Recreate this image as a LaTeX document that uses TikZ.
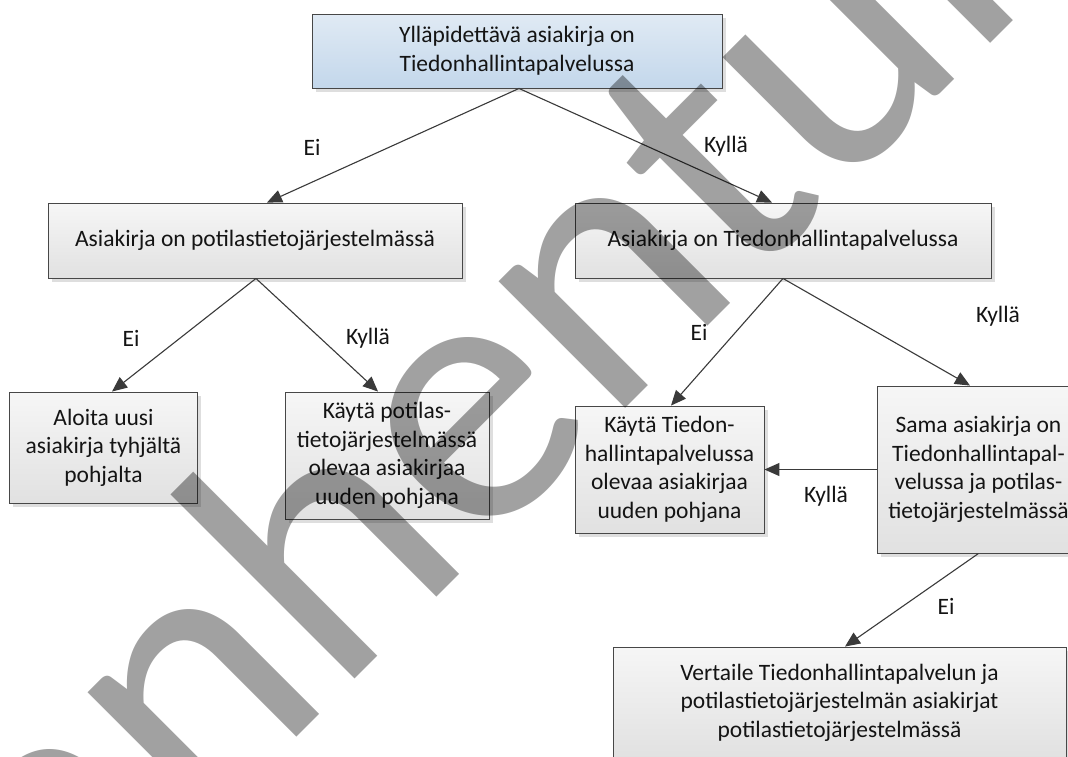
\documentclass[tikz,border=0pt]{standalone}
\usepackage{fontspec}
\setmainfont{Carlito}
\usetikzlibrary{arrows.meta,shadows}
\definecolor{edgegray}{HTML}{474747}
\definecolor{linegray}{HTML}{3A3A3A}
\definecolor{bluetop}{HTML}{E0EAF4}
\definecolor{bluebot}{HTML}{C3D7EB}
\definecolor{greytop}{HTML}{F6F6F6}
\definecolor{greybot}{HTML}{E1E1E1}
\definecolor{inktext}{HTML}{141414}
\begin{document}
\begin{tikzpicture}[x=1pt,y=-1pt,
  every node/.style={font=\fontsize{23.5}{28.6}\selectfont, text=inktext},
  boxbase/.style={draw=edgegray, line width=0.9pt, inner sep=0pt, align=center,
    drop shadow={shadow xshift=3.5pt, shadow yshift=-3.5pt, fill=black!13, opacity=1}},
  bluebox/.style={boxbase, top color=bluetop, bottom color=bluebot},
  greybox/.style={boxbase, top color=greytop, bottom color=greybot},
  conn/.style={draw=linegray, line width=1.1pt, -{Triangle[length=15pt,width=13pt]}},
  lbl/.style={inner sep=0pt}
]
\useasboundingbox (0,0) rectangle (1068,756);
\clip (0,0) rectangle (1068,756);
\fill[white] (0,0) rectangle (1068,756);

% decision boxes
\node[bluebox, minimum width=410pt, minimum height=74pt] (top) at (517,51)
  {Ylläpidettävä asiakirja on\\Tiedonhallintapalvelussa};
\node[greybox, minimum width=414pt, minimum height=75pt] (ptj) at (255,240.5)
  {Asiakirja on potilastietojärjestelmässä};
\node[greybox, minimum width=416pt, minimum height=75pt] (thp) at (783,240.5)
  {Asiakirja on Tiedonhallintapalvelussa};
\node[greybox, minimum width=188pt, minimum height=111pt] (new) at (103.5,447.5)
  {Aloita uusi\\asiakirja tyhjältä\\pohjalta};
\node[greybox, minimum width=204pt, minimum height=127pt] (useptj) at (387,455.5)
  {Käytä potilas-\\tietojärjestelmässä\\olevaa asiakirjaa\\uuden pohjana};
\node[greybox, minimum width=189pt, minimum height=127pt] (usethp) at (669.5,469.5)
  {Käytä Tiedon-\\hallintapalvelussa\\olevaa asiakirjaa\\uuden pohjana};
\node[greybox, minimum width=203pt, minimum height=167pt] (same) at (978.5,469.5)
  {Sama asiakirja on\\Tiedonhallintapal-\\velussa ja potilas-\\tietojärjestelmässä};
\node[greybox, minimum width=453pt, minimum height=111pt] (cmp) at (839.5,702.5)
  {Vertaile Tiedonhallintapalvelun ja\\potilastietojärjestelmän asiakirjat\\potilastietojärjestelmässä};

% connectors
\draw[conn] ([xshift=2pt]top.south) -- ([xshift=12pt]ptj.north);
\draw[conn] ([xshift=2pt]top.south) -- ([xshift=-11pt]thp.north);
\draw[conn] ([xshift=1pt]ptj.south) -- ([xshift=8.5pt]new.north);
\draw[conn] ([xshift=1pt]ptj.south) -- ([xshift=-9pt]useptj.north);
\draw[conn] (thp.south) -- ([xshift=1.5pt]usethp.north);
\draw[conn] (thp.south) -- ([xshift=-8.5pt]same.north);
\draw[conn] (same.west) -- (usethp.east);
\draw[conn] (same.south) -- ([xshift=5.5pt]cmp.north);

% branch labels
\node[lbl] (l1) at (312,147.5) {Ei};
\node[lbl] (l2) at (726,146) {Kyllä};
\node[lbl] (l3) at (131,338.5) {Ei};
\node[lbl] (l4) at (368,338) {Kyllä};
\node[lbl] (l5) at (699,332) {Ei};
\node[lbl] (l6) at (998,316) {Kyllä};
\node[lbl] (l7) at (826,496) {Kyllä};
\node[lbl] (l8) at (946,606) {Ei};

% watermark
\node[inner sep=0pt, anchor=base, rotate=45, text=black, text opacity=0.37,
  font=\fontsize{375}{375}\selectfont] (wm) at (637,397) {Vanhentunut};
\end{tikzpicture}
\end{document}
